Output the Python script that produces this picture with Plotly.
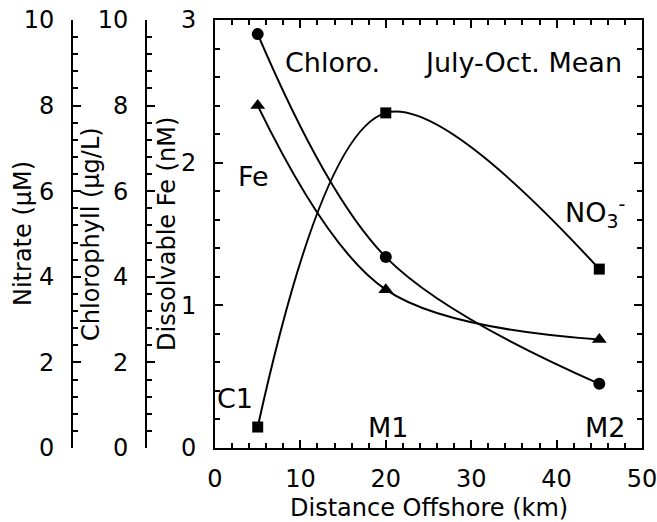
import plotly.graph_objects as go

# ---- data ----
distance_km = [5, 20, 45]
chlorophyll_ugL = [9.67, 4.46, 1.50]
fe_nM = [2.40, 1.11, 0.76]
nitrate_uM = [0.49, 7.83, 4.18]

station_labels = ["C1", "M1", "M2"]

FONT = "DejaVu Sans"
W, H = 657, 522
L, R, T, B = 215, 642, 20, 448

xdom = [L / W, R / W]
ydom = [(H - B) / H, (H - T) / H]

fig = go.Figure()

line = dict(color="black", width=2, shape="spline", smoothing=1)

fig.add_trace(go.Scatter(x=distance_km, y=nitrate_uM, yaxis="y3", mode="lines+markers",
                         line=line, marker=dict(symbol="square", size=11, color="black"),
                         name="Nitrate", cliponaxis=False))
fig.add_trace(go.Scatter(x=distance_km, y=chlorophyll_ugL, yaxis="y2", mode="lines+markers",
                         line=line, marker=dict(symbol="circle", size=12, color="black"),
                         name="Chlorophyll", cliponaxis=False))
fig.add_trace(go.Scatter(x=distance_km, y=fe_nM, yaxis="y", mode="lines+markers",
                         line=line, marker=dict(symbol="triangle-up", size=13, color="black"),
                         name="Fe", cliponaxis=False))

tickfont = dict(family=FONT, size=24, color="black")
titlefont = dict(family=FONT, size=24, color="black")

minor_y = lambda d: dict(dtick=d, ticks="inside", ticklen=5, tickwidth=1.5, tickcolor="black")

common = dict(showgrid=False, zeroline=False, showline=True, linecolor="black", linewidth=2,
              ticks="inside", ticklen=8, tickwidth=2, tickcolor="black", tickfont=tickfont,
              automargin=False, ticklabeloverflow="allow")

fig.update_layout(
    width=W, height=H, margin=dict(l=0, r=0, t=0, b=0, autoexpand=False),
    paper_bgcolor="white", plot_bgcolor="white", showlegend=False,
    xaxis=dict(domain=xdom, range=[0, 50], dtick=10, anchor="y",
               ticklabelstandoff=8, minor=minor_y(2), **common),
    xaxis2=dict(domain=xdom, range=[0, 50], dtick=10, overlaying="x", side="top", anchor="y",
                showticklabels=False, minor=minor_y(2), **common),
    yaxis=dict(domain=ydom, range=[0, 3], dtick=1, anchor="x", ticklabelstandoff=12,
               minor=minor_y(0.2), **common),
    yaxis4=dict(range=[0, 3], dtick=1, overlaying="y", side="right", anchor="x",
                showticklabels=False, minor=minor_y(0.2), **common),
    yaxis2=dict(range=[0, 10], dtick=2, overlaying="y", anchor="free", position=146 / W, side="left",
                ticklabelstandoff=12, minor=minor_y(0.4), **common),
    yaxis3=dict(range=[0, 10], dtick=2, overlaying="y", anchor="free", position=72 / W, side="left",
                ticklabelstandoff=12, minor=minor_y(0.4), **common),
)

# dummy trace so the mirror axes are drawn
fig.add_trace(go.Scatter(x=[None], y=[None], xaxis="x2", yaxis="y4", showlegend=False, hoverinfo="skip"))

# axis titles (positioned to match the original figure)
titles = [
    ("Nitrate (µM)", 23 / W, (H - 234) / H, -90),
    ("Chlorophyll (µg/L)", 91 / W, (H - 234) / H, -90),
    ("Dissolvable Fe (nM)", 167 / W, (H - 234) / H, -90),
    ("Distance Offshore (km)", (L + R) / 2 / W, (H - 508) / H, 0),
]
for text, x, y, ang in titles:
    fig.add_annotation(text=text, x=x, y=y, xref="paper", yref="paper", showarrow=False,
                       font=titlefont, textangle=ang, xanchor="center", yanchor="middle")

afont = dict(family=FONT, size=27, color="black")
notes = [
    ("Chloro.", 13.8, 2.70, "center"),
    ("July-Oct. Mean", 36.1, 2.70, "center"),
    ("Fe", 4.45, 1.90, "center"),
    ("NO<sub>3</sub><sup>-</sup>", 40.8, 1.65, "left"),
    (station_labels[0], 2.3, 0.35, "center"),
    (station_labels[1], 20.3, 0.147, "center"),
    (station_labels[2], 45.7, 0.147, "center"),
]
for text, x, y, anc in notes:
    fig.add_annotation(text=text, x=x, y=y, xref="x", yref="y", showarrow=False,
                       font=afont, xanchor=anc, yanchor="middle")

fig.write_html("out.html")
